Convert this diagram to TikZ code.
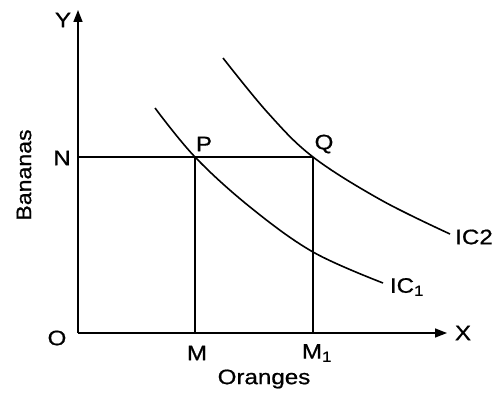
\documentclass[tikz,border=0pt]{standalone}
\usepackage{fontspec}
\usepackage{graphicx}
\setmainfont[FakeBold=0.7]{Liberation Sans}
\usetikzlibrary{arrows.meta}
\tikzset{
  lbl/.style={inner sep=0pt, font=\fontsize{21}{24}\selectfont},
  ln/.style={line width=1.6pt},
  axis/.style={line width=1.6pt, -{Triangle[length=12pt,width=9pt]}},
}
\newcommand{\sx}[1]{\scalebox{1.15}[1]{#1}}
\begin{document}
\begin{tikzpicture}[x=1pt,y=-1pt]
\useasboundingbox (0,0) rectangle (495,393);
\coordinate (O) at (78,333);
\coordinate (Ytop) at (78,10);
\coordinate (Xend) at (447,333);
\coordinate (N) at (78,157);
\coordinate (P) at (195,157);
\coordinate (Q) at (313,157);
\coordinate (M) at (195,333);
\coordinate (M1) at (313,333);
% axes
\draw[axis] (O) -- (Ytop);
\draw[axis] (O) -- (Xend);
% guide lines
\draw[ln] (N) -- (Q);
\draw[ln] (P) -- (M);
\draw[ln] (Q) -- (M1);
% indifference curves
\draw[ln] plot[smooth, tension=0.6] coordinates {(155,108) (P) (250,207) (313,252) (383,283)};
\draw[ln] plot[smooth, tension=0.6] coordinates {(223,58) (268,113) (Q) (381,200) (450,234)};
% labels
\node[lbl] (ylab) at (63,20) {\sx{Y}};
\node[lbl] (xlab) at (463,333) {\sx{X}};
\node[lbl] (olab) at (57,338) {\sx{O}};
\node[lbl] (nlab) at (62,158) {\sx{N}};
\node[lbl] (plab) at (204,144) {\sx{P}};
\node[lbl] (qlab) at (324,144) {\sx{Q}};
\node[lbl] (mlab) at (197,353) {\sx{M}};
\node[lbl] (m1lab) at (317,353) {\sx{M\textsubscript{1}}};
\node[lbl] (orlab) at (264,379) {\sx{Oranges}};
\node[lbl, rotate=90] (balab) at (24,175) {\scalebox{1.1}[1]{Bananas}};
\node[lbl] (ic1) at (407,287) {\sx{IC\textsubscript{1}}};
\node[lbl] (ic2) at (474,237) {\sx{IC2}};
\end{tikzpicture}
\end{document}
